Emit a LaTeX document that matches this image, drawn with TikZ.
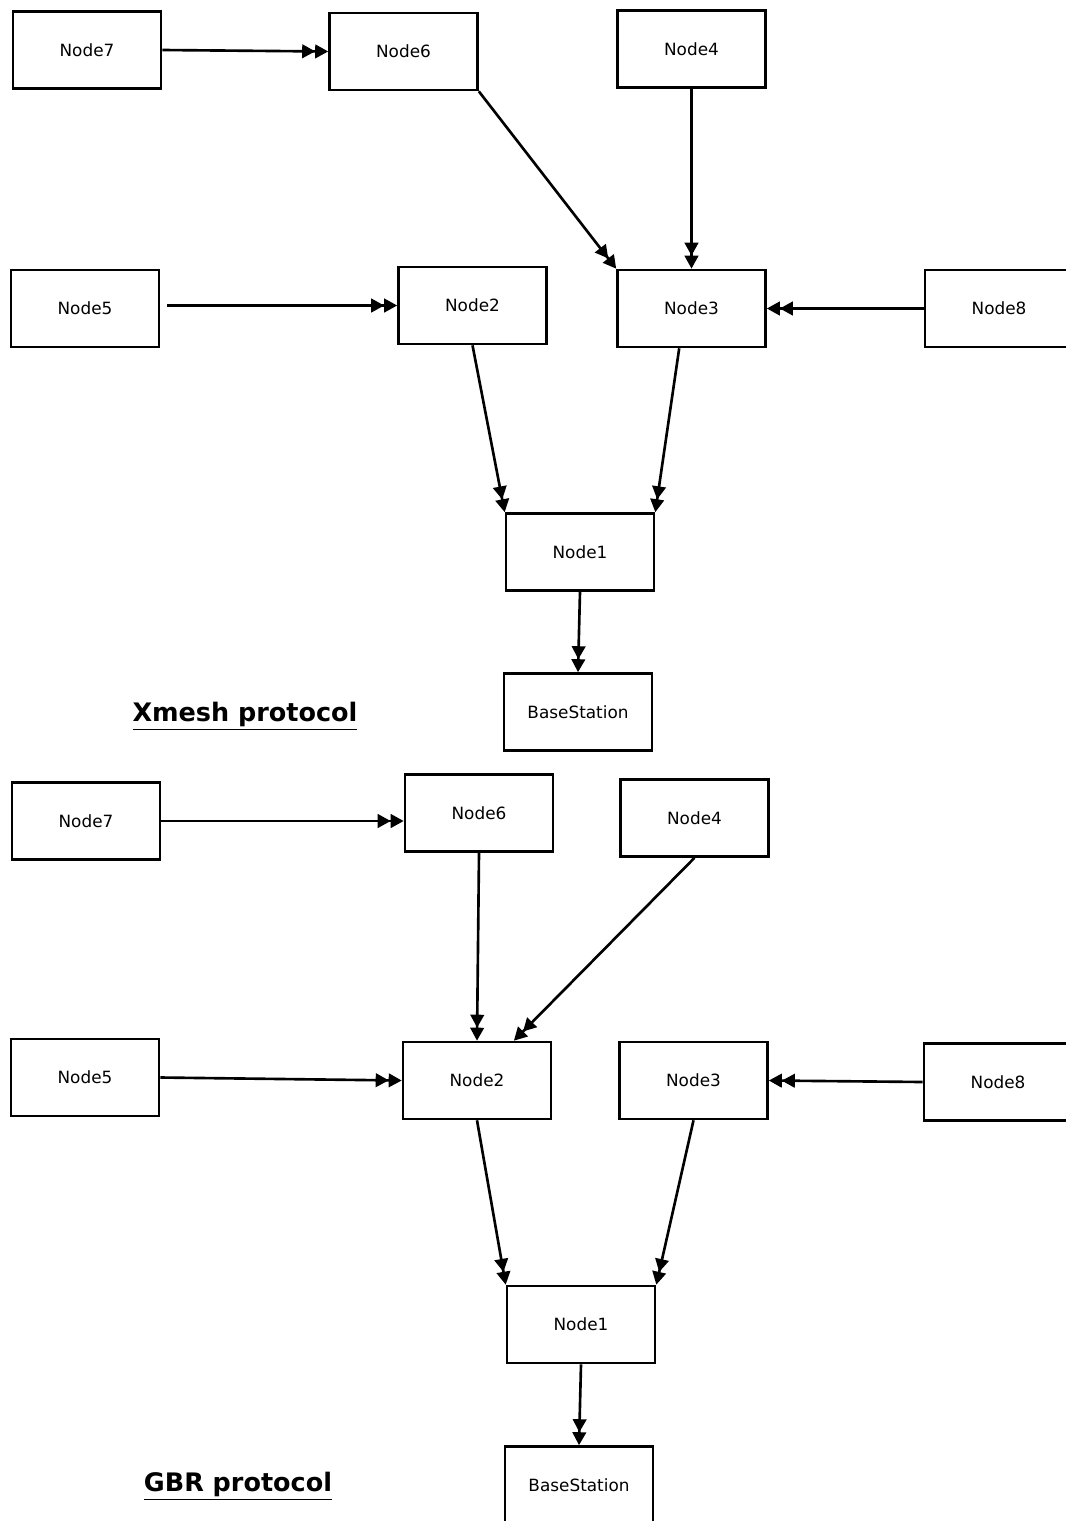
\documentclass[tikz,border=0pt]{standalone}
\usepackage{fontspec}
\setmainfont{DejaVu Sans}
\usetikzlibrary{arrows.meta, positioning}

\begin{document}
\begin{tikzpicture}[
    x=0.02cm, y=-0.02cm,
    line width=1.5pt,
    mote/.style={rectangle, draw, minimum width=2.96cm, minimum height=1.54cm, font=\fontsize{9.6}{11}\selectfont, align=center},
    link/.style={-{Triangle[length=2.6mm,width=2.7mm]Triangle[length=2.6mm,width=2.7mm]}},
    caption/.style={font=\fontsize{14.5}{17}\selectfont\bfseries}
]
    \useasboundingbox (0,0) rectangle (1065,1521);

    % Xmesh protocol
    \node[mote] (n7) at (87,50) {Node7};
    \node[mote] (n6) at (403.5,51.5) {Node6};
    \node[mote] (n4) at (691.5,49) {Node4};
    \node[mote] (n5) at (85,308.5) {Node5};
    \node[mote] (n2) at (472.5,305.5) {Node2};
    \node[mote] (n3) at (691.5,308.5) {Node3};
    \node[mote] (n8) at (999,308.5) {Node8};
    \node[mote] (n1) at (580,552) {Node1};
    \node[mote] (bs) at (578,712) {BaseStation};
    \node[caption] (xmesh) at (245,716) {\underline{Xmesh protocol}};

    \draw[link] (n7.east) -- (n6.west);
    \draw[link] (n6.south east) -- (n3.north west);
    \draw[link] (n4.south) -- (n3.north);
    \draw[link, shorten <=4pt] (n2.west -| n5.east) -- (n2.west);
    \draw[link] (n8.west) -- (n3.east);
    \draw[link] (n2.south) -- (n1.north west);
    \draw[link] ([xshift=-7]n3.south) -- (n1.north east);
    \draw[link] (n1.south) -- (bs.north);

    % GBR protocol
    \node[mote] (m7) at (86,821) {Node7};
    \node[mote] (m6) at (479,813) {Node6};
    \node[mote] (m4) at (694.5,818) {Node4};
    \node[mote] (m5) at (85,1077.5) {Node5};
    \node[mote] (m2) at (477,1080.5) {Node2};
    \node[mote] (m3) at (693.5,1080.5) {Node3};
    \node[mote] (m8) at (998,1082) {Node8};
    \node[mote] (m1) at (581,1324.5) {Node1};
    \node[mote] (mb) at (579,1485) {BaseStation};
    \node[caption] (gbr) at (238,1486) {\underline{GBR protocol}};

    \draw[link] (m7.east) -- (m7.east -| m6.west);
    \draw[link] (m6.south) -- (m2.north);
    \draw[link] (m4.south) -- ([xshift=21]m2.north);
    \draw[link] (m5.east) -- (m2.west);
    \draw[link] (m8.west) -- (m3.east);
    \draw[link] (m2.south) -- (m1.north west);
    \draw[link] (m3.south) -- (m1.north east);
    \draw[link] (m1.south) -- (mb.north);

\end{tikzpicture}
\end{document}
